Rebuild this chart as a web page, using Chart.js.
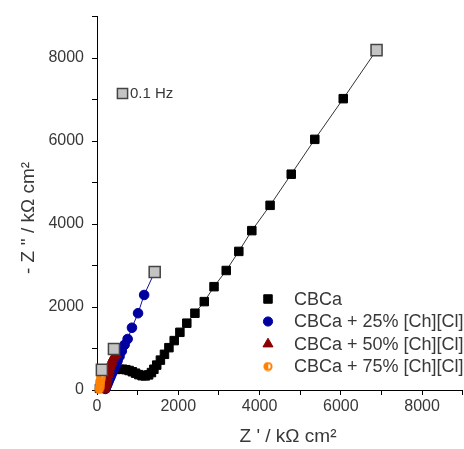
<!DOCTYPE html>
<html><head><meta charset="utf-8">
<script src="https://cdn.jsdelivr.net/npm/chart.js@4"></script>
<style>
html,body{margin:0;padding:0;overflow:hidden;background:#fff;width:464px;height:449px}
#wrap{position:absolute;left:0;top:0;width:472px;height:449px}
canvas{display:block}
</style>
</head><body><div id="wrap"><canvas id="c" width="472" height="449"></canvas></div>
<script>
// ---- data ----
const seriesNames = ['CBCa', 'CBCa + 25% [Ch][Cl]', 'CBCa + 50% [Ch][Cl]', 'CBCa + 75% [Ch][Cl]'];

const cbcaX = [60,90,130,180,240,310,390,470,550,630,710,790,870,950,1030,1110,1190,1270,1340,1400,1470,1560,1660,1770,1900,2040,2210,2410,2640,2880,3180,3490,3810,4260,4780,5360,6060];
const cbcaY = [40,150,280,380,440,475,490,495,500,500,490,470,440,405,370,345,340,365,420,500,600,720,860,1020,1190,1390,1610,1850,2130,2490,2880,3340,3840,4450,5200,6040,7020];

const ch25X = [205,220,235,252,270,290,312,336,362,392,425,462,505,555,612,680,754,860,1010,1160];
const ch25Y = [25,60,95,135,175,220,270,325,385,450,525,605,700,810,940,1090,1229,1500,1850,2290];

const ch50X = [175,188,200,213,226,240,255,270,286,303,322,342,364,388,415,445,470];
const ch50Y = [15,55,100,150,200,255,310,370,430,495,560,625,690,750,800,840,860];

const ch75X = [55,62,68,74,80,86,92,98,104,110];
const ch75Y = [15,55,95,135,175,215,255,295,335,375];

// 0.1 Hz points (last point of each series)
const lowFreqLabel = '0.1 Hz';
const lowFreqX = [6880, 1420, 417, 120];
const lowFreqY = [8190, 2843, 988, 485];

const xTickLabels = [0, 2000, 4000, 6000, 8000];
const yTickLabels = [0, 2000, 4000, 6000, 8000];
const xTitle = "Z ' / k\u03A9 cm\u00B2";
const yTitle = "- Z '' / k\u03A9 cm\u00B2";

// ---- styling ----
const FONT = '"Liberation Sans", Arial, sans-serif';
const TXT = '#383838';

function halfMarker() {
  const c = document.createElement('canvas');
  c.width = 10; c.height = 10;
  const g = c.getContext('2d');
  g.fillStyle = '#FF8000';
  g.beginPath(); g.arc(5, 5, 4.6, 0, Math.PI * 2); g.fill();
  g.fillStyle = '#fff';
  g.beginPath(); g.arc(5.3, 5, 2.4, -Math.PI / 2, Math.PI / 2); g.closePath(); g.fill();
  return c;
}
const orangeImg = halfMarker();

function mk(idx, xs, ys, color, style, radius, lineColor) {
  const data = xs.map((x, i) => ({x: x, y: ys[i]}));
  data.push({x: lowFreqX[idx], y: lowFreqY[idx]});
  const n = data.length;
  return {
    label: seriesNames[idx], data: data, showLine: true,
    borderColor: lineColor, borderWidth: 1, backgroundColor: color,
    pointBackgroundColor: color, pointBorderColor: color, pointBorderWidth: 1,
    pointStyle: style,
    pointRadius: ctx => ctx.dataIndex === n - 1 ? 0 : radius,
    clip: false, order: 4 - idx + 1
  };
}

const lowFreqData = lowFreqX.map((x, i) => ({x: x, y: lowFreqY[i]}));

const styles = [
  {style: 'rect', color: '#000000', r: 6},
  {style: 'circle', color: '#0000A0', r: 4.6},
  {style: 'triangle', color: '#8B0000', r: 5.8},
  {style: orangeImg, color: '#FF8000', r: 5}
];

const datasets = [
  {label: lowFreqLabel, data: lowFreqData, showLine: false, pointStyle: 'rect', pointRadius: 7.8,
   pointBackgroundColor: '#C4C4C4', pointBorderColor: '#444', pointBorderWidth: 1.5, clip: false, order: 0},
  mk(3, ch75X, ch75Y, '#FF8000', orangeImg, 5, '#FF8000'),
  mk(2, ch50X, ch50Y, '#8B0000', 'triangle', 5.8, '#8B0000'),
  mk(1, ch25X, ch25Y, '#0000A0', 'circle', 4.8, '#1010A0'),
  mk(0, cbcaX, cbcaY, '#000000', 'rect', 6, '#333333')
];

const overlay = {
  id: 'overlay',
  afterDraw(chart) {
    const ctx = chart.ctx;
    const a = chart.chartArea;
    ctx.save();
    ctx.fillStyle = TXT;
    ctx.textBaseline = 'middle';
    // axis titles
    ctx.font = '19px ' + FONT;
    ctx.textAlign = 'center';
    ctx.fillText(xTitle, a.left + 191, 437);
    ctx.save();
    ctx.translate(29, 218);
    ctx.rotate(-Math.PI / 2);
    ctx.fillText(yTitle, 0, 0);
    ctx.restore();
    // 0.1 Hz note
    ctx.fillStyle = '#C4C4C4'; ctx.strokeStyle = '#444'; ctx.lineWidth = 1.5;
    Chart.helpers.drawPoint(ctx, {pointStyle: 'rect', radius: 7.2, rotation: 0, borderWidth: 1.5}, 122.5, 93.5);
    ctx.fillStyle = TXT;
    ctx.textAlign = 'left';
    ctx.font = '15px ' + FONT;
    ctx.fillText(lowFreqLabel, 130, 93.5);
    // legend
    const rows = [299, 321.5, 344, 366.5];
    ctx.font = '18px ' + FONT;
    for (let i = 0; i < seriesNames.length; i++) {
      const s = styles[i];
      ctx.fillStyle = s.color; ctx.strokeStyle = s.color; ctx.lineWidth = 1;
      Chart.helpers.drawPoint(ctx, {pointStyle: s.style, radius: s.r, rotation: 0, borderWidth: 1}, 268, rows[i]);
      ctx.fillStyle = TXT;
      ctx.fillText(seriesNames[i], 294, rows[i] + 1);
    }
    ctx.restore();
  }
};

const axisCommon = (labels) => ({
  type: 'linear', min: 0, max: 9000,
  ticks: {
    stepSize: 1000, autoSkip: false, maxRotation: 0, color: TXT,
    font: {family: FONT, size: 16},
    callback: v => labels.includes(v) ? String(v) : ''
  },
  grid: {display: true, drawOnChartArea: false, drawTicks: true, tickLength: 5, color: '#000', tickWidth: 1},
  border: {display: true, color: '#000', width: 1}
});

const xOpts = axisCommon(xTickLabels);
xOpts.ticks.padding = 2;
xOpts.afterFit = s => { s.height = 59; s.paddingLeft = 0; s.paddingRight = 0; };
const yOpts = axisCommon(yTickLabels);
yOpts.ticks.padding = 8;
yOpts.afterFit = s => { s.width = 97; s.paddingTop = 0; s.paddingBottom = 0; };

new Chart(document.getElementById('c'), {
  type: 'scatter',
  data: {datasets: datasets},
  options: {
    responsive: false, animation: false, events: [],
    layout: {padding: {left: 0, right: 1.5, top: 16.5, bottom: 0}},
    plugins: {legend: {display: false}, tooltip: {enabled: false}},
    scales: {x: xOpts, y: yOpts}
  },
  plugins: [overlay]
});
</script>
</body></html>
